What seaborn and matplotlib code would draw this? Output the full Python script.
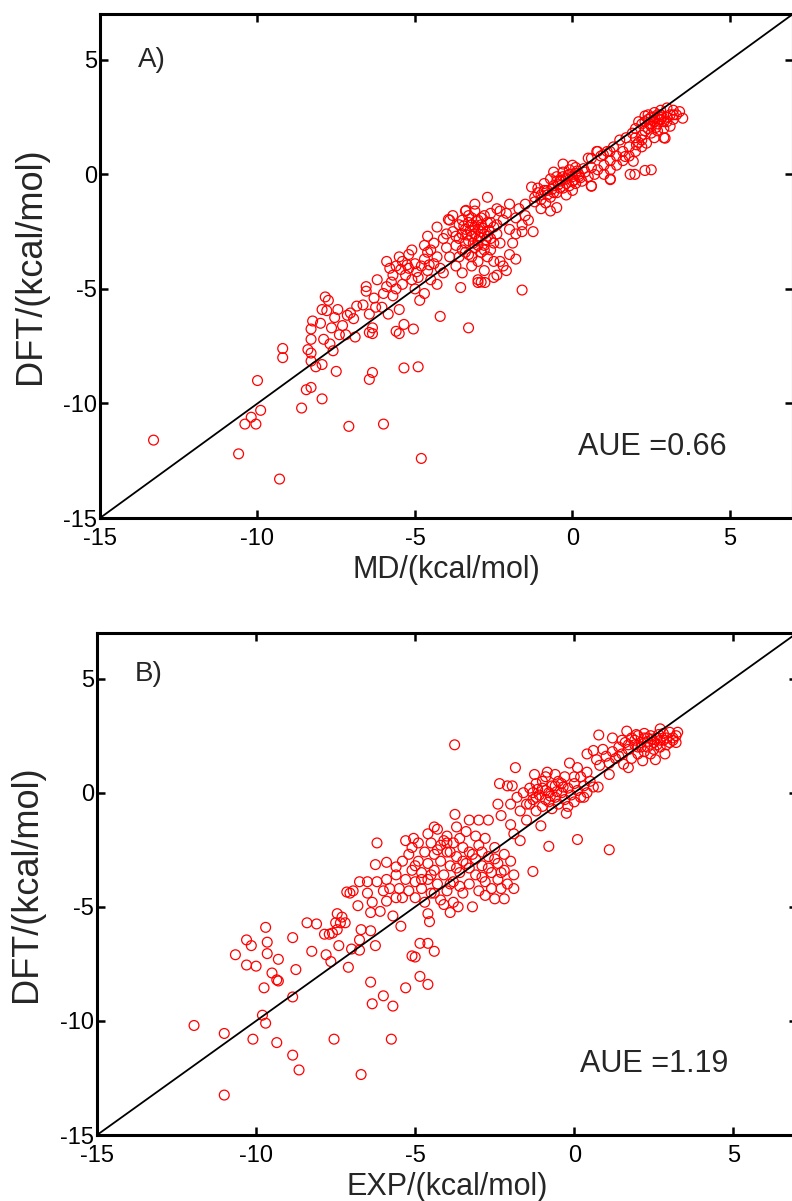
import matplotlib
matplotlib.use("Agg")
import matplotlib.pyplot as plt
import seaborn as sns
import pandas as pd

sns.set_style("ticks")
plt.rcParams['font.family'] = ['Liberation Sans', 'DejaVu Sans']
plt.rcParams['axes.unicode_minus'] = False

# ---------------- axis settings ----------------
LIM = [-15, 7]
TICKS = [-15, -10, -5, 0, 5]
XLABEL_A = "MD/(kcal/mol)"
XLABEL_B = "EXP/(kcal/mol)"
YLABEL = "DFT/(kcal/mol)"
TAG_A, TAG_B = "A)", "B)"
AUE_A, AUE_B = "AUE =0.66", "AUE =1.19"

# ---------------- panel A data (MD, DFT) ----------------
a_lowleft = [(-13.3, -11.6), (-10.6, -12.2), (-9.3, -13.3), (-10.0, -9.0), (-9.9, -10.3),
             (-10.2, -10.6), (-10.4, -10.9), (-10.05, -10.9), (-9.2, -7.6), (-9.2, -8.0),
             (-8.6, -10.2), (-8.45, -9.4), (-8.3, -9.3), (-7.95, -9.8), (-7.5, -8.6),
             (-8.4, -7.65), (-8.3, -7.8), (-8.3, -8.15), (-8.15, -8.4), (-7.95, -8.3),
             (-8.3, -6.75), (-8.25, -6.4), (-8.3, -7.2), (-8.0, -6.5), (-7.95, -5.9),
             (-7.85, -5.35), (-7.75, -5.5), (-7.8, -5.95), (-7.9, -7.2), (-7.7, -7.4),
             (-7.6, -7.7), (-7.65, -6.7), (-7.55, -6.25), (-7.45, -5.9), (-7.4, -7.0)]
a_mid = [(-7.1, -11.0), (-6.0, -10.9), (-6.35, -8.65), (-6.45, -8.95), (-7.15, -6.15),
         (-7.05, -6.05), (-6.95, -6.3), (-6.85, -5.75), (-6.65, -5.7), (-6.55, -4.9),
         (-6.55, -5.1), (-6.45, -6.1), (-6.35, -6.7), (-6.35, -6.95), (-6.45, -6.9),
         (-6.25, -5.8), (-5.9, -4.9), (-5.85, -6.1), (-5.7, -5.3), (-5.6, -6.85),
         (-6.05, -5.8), (-7.2, -7.0), (-6.9, -7.1), (-7.3, -6.6), (-6.2, -4.6),
         (-6.0, -5.2), (-6.3, -5.4)]
a_minus5_out = [(-5.5, -5.9), (-4.85, -5.5), (-5.35, -6.55), (-5.5, -6.95), (-5.05, -6.75),
                (-5.35, -8.45), (-4.9, -8.4), (-4.8, -12.4), (-4.2, -6.2), (-3.3, -6.7)]
a_minus5 = [(-5.6, -4.0), (-5.4, -3.8), (-5.2, -4.1), (-5.0, -3.9), (-4.8, -4.0),
            (-4.6, -4.2), (-5.3, -4.4), (-5.1, -4.6), (-4.9, -4.5), (-5.5, -3.6),
            (-5.2, -3.5), (-4.7, -3.7), (-5.7, -4.4), (-5.4, -4.8), (-4.5, -4.6),
            (-4.4, -3.9), (-5.0, -5.0), (-4.7, -5.2), (-5.8, -4.1), (-5.9, -3.8),
            (-4.3, -4.8), (-4.6, -3.4), (-5.1, -3.3), (-5.6, -5.0), (-4.2, -4.1),
            (-4.95, -4.25), (-5.25, -3.95), (-5.45, -4.15), (-4.55, -3.95), (-5.75, -4.7)]
a_minus3 = [(-3.5, -2.0), (-3.3, -1.8), (-3.1, -1.6), (-2.9, -1.9), (-2.7, -2.1),
            (-2.5, -2.3), (-3.4, -2.4), (-3.2, -2.2), (-3.0, -2.4), (-2.8, -2.6),
            (-2.6, -2.8), (-3.6, -2.8), (-3.4, -3.0), (-3.2, -2.7), (-3.0, -2.9),
            (-2.8, -3.1), (-2.6, -3.3), (-3.5, -3.3), (-3.3, -3.5), (-3.1, -3.2),
            (-2.9, -3.4), (-2.7, -3.6), (-3.7, -3.1), (-3.8, -2.5), (-3.6, -2.2),
            (-2.4, -2.6), (-2.3, -3.0), (-2.5, -3.8), (-3.0, -3.8), (-3.2, -4.0),
            (-2.8, -4.2), (-3.5, -4.3), (-3.9, -3.6), (-4.0, -3.2), (-4.1, -2.8),
            (-2.2, -2.0), (-2.0, -2.4), (-2.1, -1.7), (-2.4, -1.5), (-2.6, -1.7),
            (-3.1, -1.3), (-2.85, -2.35), (-3.05, -2.05), (-3.25, -2.45), (-2.95, -2.75),
            (-3.15, -3.0), (-2.75, -2.85), (-3.35, -2.65), (-2.65, -2.45), (-3.45, -2.25),
            (-2.0, -3.5), (-1.9, -3.0), (-1.8, -2.6), (-1.6, -2.2), (-1.5, -1.8),
            (-1.7, -1.5), (-2.2, -4.0), (-2.4, -4.4), (-3.0, -4.6), (-3.7, -4.0),
            (-4.1, -4.3), (-4.3, -3.6), (-4.4, -3.0), (-4.6, -2.7), (-3.9, -2.0),
            (-3.4, -1.6), (-2.7, -1.0), (-1.6, -5.05), (-2.1, -4.2), (-1.8, -3.7),
            (-3.94, -1.97), (-3.38, -1.57), (-4.3, -2.3), (-4.0, -2.6), (-4.5, -3.3),
            (-4.7, -3.1), (-3.8, -1.8), (-2.5, -4.5), (-2.9, -4.7), (-3.0, -4.72),
            (-2.78, -4.72), (-3.55, -4.94), (-2.3, -3.8)]
a_minus3_core = [(-3.3, -2.1), (-3.1, -2.3), (-2.9, -2.5), (-2.7, -2.7), (-3.3, -2.9),
                 (-3.1, -2.6), (-2.9, -2.2), (-3.5, -2.6), (-3.4, -3.4), (-3.0, -3.1),
                 (-2.8, -3.3), (-3.2, -3.6), (-2.6, -2.1), (-3.6, -3.6), (-3.0, -2.0),
                 (-3.2, -1.9), (-2.4, -2.2), (-2.5, -3.0), (-3.7, -2.7), (-2.8, -1.8)]
a_minus1 = [(-2.3, -1.6), (-2.0, -1.3), (-1.8, -1.9), (-1.5, -1.3), (-1.2, -1.0),
            (-1.0, -1.5), (-1.4, -2.0), (-1.1, -0.8), (-1.6, -2.5), (-1.25, -2.5),
            (-1.3, -0.55), (-0.7, -1.6), (-0.5, -1.45)]
a_zero = [(-1.0, -0.9), (-0.8, -0.7), (-0.6, -0.5), (-0.4, -0.3), (-0.2, -0.2),
          (0.0, -0.1), (0.2, 0.0), (-0.9, -0.4), (-0.7, -0.2), (-0.5, -0.1),
          (-0.3, 0.1), (-0.1, 0.2), (0.1, 0.3), (-0.7, -1.0), (-0.5, -0.8),
          (-0.3, -0.6), (-0.1, -0.5), (0.1, -0.4), (0.3, -0.3), (-0.2, -0.9),
          (0.0, -0.7), (0.4, 0.1), (0.6, 0.3), (0.5, -0.1), (0.7, 0.0),
          (0.6, -0.5), (-0.3, 0.45), (0.0, 0.4), (-0.6, 0.1), (-1.1, -0.6),
          (-1.2, -1.2), (-0.85, -1.25), (0.25, -0.15), (-0.45, -0.45), (-0.15, -0.05),
          (0.15, 0.15), (-0.65, -0.65), (0.35, 0.25), (0.05, -0.25), (-0.35, -0.25),
          (-0.8, -0.9), (-0.6, -0.8), (-0.4, -0.6), (-0.2, -0.4), (0.0, -0.3),
          (0.2, -0.1), (-0.5, -0.3), (-0.3, -0.1), (-0.1, 0.0), (0.1, 0.05),
          (-1.0, -1.1), (-0.9, -0.7)]
a_plus1 = [(0.8, 0.2), (1.0, 0.4), (1.2, 0.6), (1.4, 0.8), (1.6, 1.0),
           (1.8, 1.2), (1.0, 0.0), (1.2, 0.2), (1.4, 0.4), (1.6, 0.6),
           (1.8, 0.8), (2.0, 1.0), (0.9, 0.8), (1.1, 1.0), (1.3, 1.2),
           (1.5, 1.5), (1.7, 1.6), (1.9, 1.8), (2.1, 1.4), (2.2, 1.2),
           (2.0, 1.6), (0.6, 0.7), (0.8, 1.0), (1.2, -0.2), (0.98, 0.86),
           (1.19, 1.0), (1.93, 0.57), (1.67, 0.78), (2.03, 1.29), (2.35, 1.36),
           (1.83, 0.0), (1.98, 0.0), (2.3, 0.17), (2.5, 0.2), (1.2, -0.23),
           (0.6, -0.52), (0.5, 0.71), (0.77, 1.0)]
a_plus3 = [(2.0, 2.0), (2.2, 2.2), (2.4, 2.4), (2.6, 2.5), (2.8, 2.6),
           (3.0, 2.5), (3.2, 2.4), (2.3, 1.9), (2.5, 2.1), (2.7, 2.2),
           (2.9, 2.3), (3.1, 2.1), (2.5, 1.8), (2.7, 1.9), (2.9, 2.0),
           (3.3, 2.6), (3.5, 2.45), (3.4, 2.74), (3.2, 2.8), (2.4, 2.6),
           (2.6, 2.7), (2.85, 2.5), (2.9, 1.6), (2.94, 1.58), (2.6, 1.6),
           (2.2, 1.7), (3.0, 2.9), (2.75, 2.4), (2.55, 2.35), (2.1, 2.3),
           (2.3, 2.55), (3.1, 2.6), (2.65, 2.05), (2.45, 2.2), (2.8, 2.8),
           (2.2, 1.5), (2.4, 2.0), (2.6, 2.3), (2.8, 2.4), (3.0, 2.3),
           (2.7, 2.6), (2.5, 2.5), (3.2, 2.6), (2.3, 2.3)]

# ---------------- panel B data (EXP, DFT) ----------------
b_lowleft = [(-11.95, -10.2), (-11.0, -10.55), (-11.0, -13.25), (-10.1, -10.8), (-9.8, -9.75),
             (-9.7, -10.1), (-9.35, -10.95), (-8.85, -11.5), (-8.65, -12.15), (-7.55, -10.8),
             (-8.85, -8.95), (-9.75, -8.55), (-9.5, -7.9), (-9.35, -8.2), (-9.3, -8.25),
             (-8.75, -7.75), (-10.3, -7.55), (-10.0, -7.6), (-10.65, -7.1), (-10.3, -6.45),
             (-10.15, -6.7), (-9.7, -5.9), (-9.65, -6.55), (-9.65, -7.05), (-9.3, -7.3),
             (-8.85, -6.35), (-8.4, -5.7), (-8.1, -5.75), (-8.25, -6.95), (-7.8, -7.1),
             (-7.65, -7.4), (-7.85, -6.2), (-7.7, -6.2), (-7.6, -6.15)]
b_mid = [(-7.1, -7.65), (-7.4, -6.7), (-7.45, -5.3), (-7.3, -5.45), (-7.5, -5.7),
         (-7.35, -5.7), (-7.2, -5.7), (-7.45, -6.0), (-7.0, -6.85), (-6.75, -6.45),
         (-6.75, -6.9), (-6.7, -6.0), (-6.4, -6.05), (-6.25, -6.7), (-6.4, -8.3),
         (-6.0, -8.9), (-6.35, -9.25), (-5.7, -9.35), (-6.7, -12.35), (-5.75, -10.8),
         (-7.15, -4.35), (-7.05, -4.4), (-6.8, -4.95), (-6.5, -4.4), (-6.35, -4.8),
         (-6.4, -5.25), (-6.1, -5.2), (-5.9, -4.75), (-5.7, -5.4), (-6.2, -2.2),
         (-6.25, -3.15), (-5.9, -3.05), (-6.95, -4.3), (-6.75, -3.9), (-6.5, -3.9),
         (-6.2, -3.9), (-5.9, -3.8), (-5.6, -3.25)]
b_below = [(-5.3, -8.55), (-4.85, -8.05), (-4.6, -8.4), (-5.1, -7.15), (-5.0, -7.2),
           (-4.85, -6.6), (-4.6, -6.6), (-4.4, -6.95), (-5.45, -5.85), (-4.55, -5.65),
           (-4.6, -5.3), (-3.2, -5.0), (-3.9, -5.25), (-3.65, -5.0), (-2.5, -4.65),
           (-2.2, -4.65), (-1.9, -4.2)]
b_band = [(-5.3, -2.1), (-5.05, -2.0), (-3.75, -0.95), (-4.4, -1.5), (-3.3, -1.2),
          (-3.0, -1.2), (-2.7, -1.2), (-3.76, 2.1),
          (-5.5, -4.2), (-5.3, -3.8), (-5.1, -3.4), (-4.9, -3.0), (-4.7, -2.6),
          (-4.5, -2.2), (-5.4, -4.6), (-5.2, -4.3), (-5.0, -3.9), (-4.8, -3.5),
          (-4.6, -3.1), (-4.4, -2.7), (-4.2, -2.3), (-5.0, -4.6), (-4.8, -4.2),
          (-4.6, -3.8), (-4.4, -3.4), (-4.2, -3.0), (-4.0, -2.6), (-3.8, -2.2),
          (-4.7, -4.8), (-4.5, -4.4), (-4.3, -4.0), (-4.1, -3.6), (-3.9, -3.2),
          (-3.7, -2.8), (-3.5, -2.4), (-4.2, -4.7), (-4.0, -4.3), (-3.8, -3.9),
          (-3.6, -3.5), (-3.4, -3.1), (-3.2, -2.7), (-3.0, -2.3), (-3.8, -4.8),
          (-3.5, -4.4), (-3.3, -4.0), (-3.1, -3.6), (-2.9, -3.2), (-2.7, -2.8),
          (-2.5, -2.4), (-3.0, -4.3), (-2.8, -3.9), (-2.6, -3.5), (-2.4, -3.1),
          (-2.2, -2.7), (-2.6, -4.2), (-2.4, -3.8), (-2.2, -3.4), (-2.0, -3.0),
          (-2.1, -4.0), (-1.9, -3.6), (-4.9, -2.2), (-4.6, -1.8), (-4.3, -1.6),
          (-4.0, -1.9), (-3.7, -1.5), (-3.4, -1.7), (-3.1, -1.9), (-2.8, -2.0),
          (-3.6, -2.0), (-5.2, -2.7), (-5.4, -3.0), (-5.6, -3.6), (-5.8, -4.2),
          (-4.0, -2.2), (-3.9, -4.0), (-3.3, -3.3), (-2.9, -2.6), (-4.5, -3.6),
          (-5.1, -2.4), (-1.7, -2.1), (-1.3, -3.45), (-0.8, -2.35), (0.1, -2.05),
          (1.1, -2.5), (-1.05, -1.45), (-0.25, -0.9)]
b_band_core = [(-4.3, -2.5), (-4.1, -2.1), (-3.9, -2.6), (-3.7, -3.3), (-3.5, -3.0),
               (-3.3, -2.6), (-3.1, -2.9), (-2.9, -3.7), (-2.7, -3.3), (-2.5, -2.9),
               (-2.3, -3.5), (-2.3, -4.2), (-2.8, -4.5), (-4.8, -3.8), (-5.0, -3.2),
               (-4.4, -4.4), (-4.1, -4.9), (-3.6, -4.1), (-5.6, -4.6), (-6.0, -4.3)]
b_zero = [(-2.35, 0.4), (-2.1, 0.3), (-1.95, 0.3), (-1.85, 1.1), (-1.25, 0.8),
          (-0.85, 0.9), (-0.15, 1.3), (0.1, 1.1), (0.4, 1.7), (0.6, 1.85),
          (0.7, 1.45), (1.1, 0.8), (0.6, 0.25), (0.75, 0.25), (0.3, -0.2),
          (0.77, 2.53),
          (-2.0, -0.5), (-1.8, -0.2), (-1.6, 0.0), (-1.4, 0.2), (-1.2, 0.4),
          (-1.0, 0.5), (-1.7, -0.8), (-1.5, -0.5), (-1.3, -0.3), (-1.1, -0.1),
          (-0.9, 0.1), (-0.7, 0.3), (-0.5, 0.5), (-1.2, -0.8), (-1.0, -0.6),
          (-0.8, -0.4), (-0.6, -0.2), (-0.4, 0.0), (-0.2, 0.2), (0.0, 0.4),
          (-0.7, -0.7), (-0.5, -0.5), (-0.3, -0.3), (-0.1, -0.1), (0.1, 0.1),
          (0.3, 0.3), (0.5, 0.5), (-0.2, -0.6), (0.0, -0.4), (0.2, -0.2),
          (0.4, 0.0), (-2.3, -1.0), (-2.0, -1.4), (-1.5, -1.2), (-0.9, 0.7),
          (-0.6, 0.8), (0.2, 0.7), (0.4, 0.9), (-1.9, -1.8), (-2.4, -0.5),
          (-0.35, 0.25), (-0.75, -0.15), (-1.15, 0.15), (-0.55, 0.05),
          (-1.4, -0.5), (-1.2, -0.2), (-0.8, 0.0), (-0.6, 0.3), (-0.4, 0.4),
          (-1.0, 0.2), (-1.3, 0.0), (-0.9, -0.3), (0.0, 0.7), (-0.3, 0.7)]
b_plus = [(1.55, 1.25), (1.7, 1.1), (2.15, 1.4), (2.55, 1.45), (2.7, 2.8),
          (3.2, 2.5), (3.25, 2.65), (2.85, 1.7), (1.65, 2.7), (1.2, 2.4),
          (1.95, 2.55), (2.3, 2.25),
          (1.0, 1.6), (1.2, 1.8), (1.4, 2.0), (1.6, 2.2), (1.8, 2.4),
          (2.0, 2.5), (2.2, 2.6), (2.4, 2.5), (2.6, 2.4), (2.8, 2.3),
          (3.0, 2.2), (1.3, 1.5), (1.5, 1.7), (1.7, 1.9), (1.9, 2.1),
          (2.1, 2.2), (2.3, 2.0), (2.5, 1.9), (2.7, 2.0), (2.9, 2.1),
          (3.1, 2.4), (1.8, 1.5), (2.0, 1.7), (2.2, 1.8), (2.4, 1.7),
          (2.6, 2.1), (2.8, 2.6), (3.0, 2.65), (1.1, 1.3), (0.9, 1.9),
          (2.0, 2.0), (2.45, 2.35), (2.65, 2.55), (1.5, 2.3), (3.2, 2.2),
          (0.8, 1.2), (1.7, 2.1), (1.9, 2.3), (2.1, 2.0), (2.3, 2.4),
          (2.5, 2.2), (2.7, 2.3), (2.9, 2.4), (3.1, 2.3), (2.2, 2.4),
          (1.4, 1.6)]


def to_frame(*groups):
    pts = [p for g in groups for p in g]
    return pd.DataFrame(pts, columns=["x", "y"])


dfA = to_frame(a_lowleft, a_mid, a_minus5_out, a_minus5, a_minus3, a_minus3_core,
               a_minus1, a_zero, a_plus1, a_plus3)
dfB = to_frame(b_lowleft, b_mid, b_below, b_band, b_band_core, b_zero, b_plus)

fig = plt.figure(figsize=(7.92, 12.01), dpi=100)
axA = fig.add_axes([0.12626, 0.56869, 0.875, 0.41965])
axB = fig.add_axes([0.12247, 0.05495, 0.88384, 0.41799])


def draw(ax, df, xlabel, tag, tag_y, aue, xlab_y):
    ax.plot(LIM, LIM, color="black", linewidth=1.3, zorder=3)
    sns.scatterplot(data=df, x="x", y="y", ax=ax, s=50, facecolor="none",
                    edgecolor="#ff0000", linewidth=0.9, legend=False, zorder=2)
    ax.set_xlim(LIM)
    ax.set_ylim(LIM)
    ax.set_xticks(TICKS)
    ax.set_yticks(TICKS)
    ax.tick_params(direction="in", top=True, right=True, length=5.5, width=1.8,
                   labelsize=17, colors="black")
    ax.tick_params(axis="x", pad=7.5)
    ax.tick_params(axis="y", pad=2)
    for s in ax.spines.values():
        s.set_linewidth(2.2)
        s.set_color("black")
    ax.set_xlabel(xlabel, fontsize=22)
    ax.xaxis.label.set_va("top")
    ax.xaxis.set_label_coords(0.5, xlab_y)
    ax.set_ylabel(YLABEL, fontsize=26)
    ax.yaxis.label.set_va("center")
    ax.yaxis.set_label_coords(-0.101, 0.5)
    ax.text(-13.8, tag_y, tag, fontsize=20, ha="left", va="center")
    ax.text(0.17, -11.9, aue, fontsize=22, ha="left", va="center")


draw(axA, dfA, XLABEL_A, TAG_A, 5.0, AUE_A, -0.074)
draw(axB, dfB, XLABEL_B, TAG_B, 5.2, AUE_B, -0.074)

fig.savefig("out.png", dpi=100, facecolor="white")
